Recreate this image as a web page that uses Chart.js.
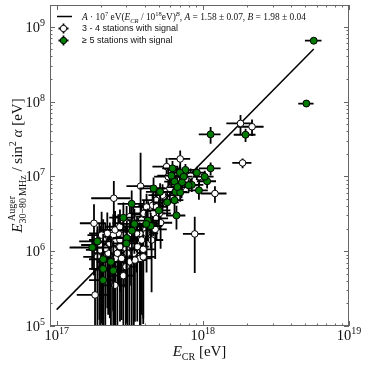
<!DOCTYPE html>
<html>
<head>
<meta charset="utf-8">
<script src="https://cdn.jsdelivr.net/npm/chart.js@4.4.0/dist/chart.umd.min.js"></script>
<style>html,body{margin:0;padding:0;background:#fff}</style>
</head>
<body>
<canvas id="radioChart" width="366" height="366"></canvas>
<script>
// >= 5 stations with signal (filled green)
var greenEnergy = [5.74e18, 5.11e18, 1.13e18, 1.96e18, 1.13e18, 9.4e17, 1.07e18, 1.03e18, 9.1e17, 7.6e17,
  8.4e17, 8.0e17, 6.96e17, 7.4e17, 6.2e17, 6.1e17, 6.4e17, 6.5e17, 6.4e17, 6.6e17,
  5.7e17, 5.1e17, 4.6e17, 5.0e17, 4.2e17, 4.4e17, 4.1e17, 3.26e17, 3.4e17, 3.27e17,
  3.02e17, 3.0e17, 2.86e17, 1.9e17, 1.75e17, 2.08e17, 2.08e17, 2.35e17, 2.44e17, 2.08e17,
  7.2e17, 7.0e17, 6.7e17];
var greenRadio = [6.5e8, 9.4e7, 3.64e7, 3.6e7, 1.28e7, 6.5e6, 8.6e6, 9.9e6, 1.12e7, 1.22e7,
  7.7e6, 7.6e6, 1.12e7, 9.9e6, 1.28e7, 1.02e7, 8.5e6, 6.2e6, 4.8e6, 3.0e6,
  4.5e6, 6.2e6, 6.9e6, 3.5e6, 2.56e6, 2.17e6, 2.31e6, 4.3e6, 2.31e6, 1.88e6,
  1.5e6, 1.27e6, 2.8e6, 1.35e6, 1.12e6, 7.8e5, 5.8e5, 7.2e5, 5.5e5, 4.1e5,
  8.3e6, 6.1e6, 7.2e6];
// relative uncertainties
var greenEnergyErr = [0.13, 0.12, 0.17, 0.17, 0.17, 0.15, 0.15, 0.15, 0.15, 0.15,
  0.2, 0.15, 0.15, 0.15, 0.15, 0.2, 0.15, 0.2, 0.15, 0.15,
  0.2, 0.2, 0.2, 0.2, 0.2, 0.2, 0.2, 0.2, 0.2, 0.2,
  0.2, 0.2, 0.2, 0.25, 0.3, 0.2, 0.2, 0.2, 0.2, 0.2,
  0.15, 0.15, 0.15];
var greenRadioErr = [0.08, 0.1, 0.25, 0.2, 0.2, 0.25, 0.2, 0.2, 0.2, 0.2,
  0.2, 0.2, 0.25, 0.2, 0.25, 0.3, 0.3, 0.3, 0.35, 0.35,
  0.35, 0.3, 0.4, 0.4, 0.45, 0.5, 0.5, 0.5, 0.6, 0.6,
  0.7, 0.8, 0.6, 0.6, 0.5, 1.2, 1.5, 1.2, 1.5, 1.5,
  0.2, 0.25, 0.25];

// 3 - 4 stations with signal (open)
var whiteEnergy = [1.81e18, 2.17e18, 1.87e18, 1.21e18, 8.8e17, 7.0e17, 5.65e17, 3.75e17, 2.46e17, 1.80e17,
  1.83e17, 2.5e17, 6.68e17, 8.24e17, 9.44e17, 5.80e17, 7.15e17, 5.95e17, 5.30e17, 4.78e17,
  4.53e17, 3.95e17, 4.23e17, 4.58e17, 4.82e17, 5.14e17, 4.72e17, 4.07e17, 3.71e17, 3.34e17,
  3.52e17, 3.81e17, 3.17e17, 2.88e17, 2.64e17, 2.44e17, 2.22e17, 2.08e17, 2.31e17, 2.51e17,
  2.71e17, 2.98e17, 3.26e17, 3.56e17, 3.91e17, 3.37e17, 3.71e17, 3.14e17, 2.78e17, 2.51e17,
  2.25e17, 1.98e17, 1.96e17, 2.15e17, 2.44e17, 2.60e17, 2.86e17, 2.98e17, 3.43e17, 3.91e17,
  3.04e17, 2.71e17, 2.51e17, 2.03e17, 1.90e17, 4.12e17, 4.46e17, 5.04e17, 4.82e17, 4.12e17,
  3.81e17, 3.17e17, 3.01e17, 2.71e17];
var whiteRadio = [5.1e7, 4.6e7, 1.51e7, 5.9e6, 1.7e6, 1.71e7, 1.35e7, 7.4e6, 5.1e6, 2.36e6,
  2.6e5, 3.5e5, 1.06e7, 1.02e7, 9.9e6, 9.9e6, 7.3e6, 6.9e6, 5.6e6, 4.8e6,
  4.1e6, 3.2e6, 3.1e6, 3.2e6, 2.75e6, 2.4e6, 1.96e6, 1.92e6, 1.73e6, 2.75e6,
  1.73e6, 1.41e6, 1.73e6, 1.64e6, 1.73e6, 1.64e6, 1.73e6, 1.41e6, 1.27e6, 1.33e6,
  1.15e6, 1.09e6, 1.21e6, 1.15e6, 1.06e6, 9.4e5, 8.0e5, 7.2e5, 8.0e5, 8.0e5,
  9.4e5, 1.04e6, 1.21e6, 1.09e6, 1.04e6, 9.4e5, 4.7e5, 6.2e5, 7.6e5, 8.4e5,
  9.4e5, 1.41e6, 1.92e6, 1.64e6, 8.4e5, 1.73e6, 1.41e6, 3.2e6, 3.9e6, 3.9e6,
  2.6e6, 2.9e6, 2.36e6, 2.12e6];
var whiteEnergyErr = [0.2, 0.2, 0.15, 0.2, 0.17, 0.17, 0.2, 0.2, 0.3, 0.2,
  0.25, 0.2, 0.15, 0.15, 0.15, 0.2, 0.15, 0.2, 0.2, 0.2,
  0.2, 0.2, 0.2, 0.2, 0.2, 0.2, 0.2, 0.2, 0.2, 0.2,
  0.2, 0.2, 0.2, 0.2, 0.25, 0.2, 0.25, 0.2, 0.2, 0.2,
  0.2, 0.2, 0.2, 0.2, 0.2, 0.2, 0.2, 0.2, 0.2, 0.2,
  0.2, 0.2, 0.25, 0.2, 0.2, 0.2, 0.2, 0.2, 0.2, 0.2,
  0.2, 0.2, 0.2, 0.2, 0.2, 0.2, 0.2, 0.2, 0.2, 0.2,
  0.2, 0.2, 0.2, 0.2];
var whiteRadioErr = [0.3, 0.25, 0.15, 0.25, 0.7, 0.3, 0.3, 1.8, 0.7, 0.8,
  1.2, 1.3, 0.25, 0.25, 0.25, 0.3, 0.3, 0.35, 0.4, 0.4,
  0.45, 0.5, 0.5, 0.5, 0.5, 0.55, 0.6, 0.6, 0.7, 0.6,
  0.7, 0.9, 0.8, 0.8, 0.8, 0.9, 0.9, 0.9, 0.9, 0.9,
  0.9, 1.2, 1.1, 0.9, 0.9, 1.3, 0.9, 0.9, 0.85, 1.3,
  0.85, 1.1, 0.9, 1.2, 0.85, 1.1, 1.5, 1.3, 0.85, 0.85,
  1.2, 0.8, 0.8, 1.05, 1.3, 0.7, 0.8, 0.4, 0.4, 0.5,
  0.6, 0.6, 0.7, 0.7];

// fit A * 1e7 eV (E/1e18 eV)^B
var fitA = 1.58, fitB = 1.98;
var fitRange = [1e17, 5.74e18];

var xDecades = [17, 18, 19];
var yDecades = [5, 6, 7, 8, 9];

function pts(xs, ys) {
  return xs.map(function (x, i) { return { x: x, y: ys[i] }; });
}
var fitLine = fitRange.map(function (e) {
  return { x: e, y: fitA * 1e7 * Math.pow(e / 1e18, fitB) };
});

var serif = '"Liberation Serif", "DejaVu Serif", serif';
var sans = '"Liberation Sans", Arial, sans-serif';

// draws a row of text pieces (sizes, italics, super/subscripts)
function richText(c, parts, x, y, draw) {
  var cx = x, lastStart = x, lastEnd = x;
  parts.forEach(function (p) {
    var size = p.size || 15;
    c.font = (p.italic ? 'italic ' : '') + size + 'px ' + (p.family || serif);
    var start = p.stack ? lastStart : cx;
    var w = c.measureText(p.t).width;
    if (draw) c.fillText(p.t, start, y - (p.rise || 0));
    if (p.stack) {
      cx = Math.max(lastEnd, start + w);
    } else {
      lastStart = start;
      cx = start + w;
    }
    lastEnd = cx;
  });
  return cx - x;
}

function powLabel(e) {
  return [{ t: '10', size: 14.5 }, { t: String(e), size: 10, rise: 6 }];
}

var errorBars = {
  id: 'errorBars',
  beforeDatasetDraw: function (chart, args) {
    var ds = chart.data.datasets[args.index];
    if (!ds.errX) return;
    var xs = chart.scales.x, ys = chart.scales.y, a = chart.chartArea, c = chart.ctx;
    c.save();
    c.beginPath();
    c.rect(a.left, a.top, a.right - a.left, a.bottom - a.top);
    c.clip();
    c.strokeStyle = '#000';
    c.lineWidth = 1.8;
    ds.data.forEach(function (p, i) {
      var fx = ds.errX[i], fy = ds.errY[i];
      var px = xs.getPixelForValue(p.x), py = ys.getPixelForValue(p.y);
      var x0 = xs.getPixelForValue(p.x * (1 - fx)), x1 = xs.getPixelForValue(p.x * (1 + fx));
      var y0 = fy < 1 ? ys.getPixelForValue(p.y * (1 - fy)) : a.bottom + 5;
      var y1 = ys.getPixelForValue(p.y * (1 + fy));
      c.beginPath();
      c.moveTo(x0, py); c.lineTo(x1, py);
      c.moveTo(px, y0); c.lineTo(px, y1);
      c.stroke();
    });
    c.restore();
  }
};

var frame = {
  id: 'frame',
  afterDraw: function (chart) {
    var c = chart.ctx, a = chart.chartArea, xs = chart.scales.x, ys = chart.scales.y;
    c.save();
    c.strokeStyle = '#666';
    c.lineWidth = 1;
    c.strokeRect(a.left + 0.5, a.top + 0.5, a.right - a.left - 1, a.bottom - a.top - 1);

    // inward ticks on all four sides
    c.beginPath();
    xDecades.forEach(function (d) {
      for (var m = 1; m <= 9; m++) {
        var v = m * Math.pow(10, d);
        if (v < xs.min || v > xs.max) continue;
        var px = Math.round(xs.getPixelForValue(v)) + 0.5, len = m === 1 ? 5 : 2.5;
        c.moveTo(px, a.bottom); c.lineTo(px, a.bottom - len);
        c.moveTo(px, a.top); c.lineTo(px, a.top + len);
      }
    });
    yDecades.forEach(function (d) {
      for (var m = 1; m <= 9; m++) {
        var v = m * Math.pow(10, d);
        if (v < ys.min || v > ys.max) continue;
        var py = Math.round(ys.getPixelForValue(v)) + 0.5, len = m === 1 ? 5 : 2.5;
        c.moveTo(a.left, py); c.lineTo(a.left + len, py);
        c.moveTo(a.right, py); c.lineTo(a.right - len, py);
      }
    });
    c.stroke();

    // tick labels
    c.fillStyle = '#111';
    c.textBaseline = 'alphabetic';
    c.textAlign = 'left';
    xDecades.forEach(function (d) {
      var px = xs.getPixelForValue(Math.pow(10, d));
      var w = richText(c, powLabel(d), 0, 0, false);
      richText(c, powLabel(d), px - w / 2, a.bottom + 14, true);
    });
    yDecades.forEach(function (d) {
      var py = ys.getPixelForValue(Math.pow(10, d));
      var w = richText(c, powLabel(d), 0, 0, false);
      richText(c, powLabel(d), a.left - 5 - w, py + 5, true);
    });

    // axis titles
    var xTitle = [{ t: 'E', italic: true }, { t: 'CR', size: 10, rise: -3.5 }, { t: ' [eV]' }];
    var wx = richText(c, xTitle, 0, 0, false);
    richText(c, xTitle, (a.left + a.right) / 2 - wx / 2, 356, true);

    var yTitle = [{ t: 'E', italic: true }, { t: ' Auger', size: 10, rise: 7 },
      { t: '30\u221280\u2009MHz', size: 10, rise: -4, stack: true },
      { t: ' / sin' }, { t: '2', size: 10, rise: 6 }, { t: ' \u03b1', italic: true }, { t: ' [eV]' }];
    var wy = richText(c, yTitle, 0, 0, false);
    c.save();
    c.translate(22, (a.top + a.bottom) / 2);
    c.rotate(-Math.PI / 2);
    richText(c, yTitle, -wy / 2, 0, true);
    c.restore();

    // legend
    var lx = 63.5;
    c.strokeStyle = '#000';
    c.lineWidth = 1.5;
    c.beginPath(); c.moveTo(57, 16.5); c.lineTo(72, 16.5); c.stroke();
    var fitText = [{ t: 'A', italic: true, size: 9.4 }, { t: ' \u00b7 10', size: 9.4 }, { t: '7', size: 6.5, rise: 4 },
      { t: ' eV(', size: 9.4 }, { t: 'E', italic: true, size: 9.4 }, { t: 'CR', italic: true, size: 6.5, rise: -2.5 },
      { t: ' / 10', size: 9.4 }, { t: '18', size: 6.5, rise: 4 }, { t: 'eV)', size: 9.4 },
      { t: 'B', italic: true, size: 6.5, rise: 4 }, { t: ', ', size: 9.4 }, { t: 'A', italic: true, size: 9.4 },
      { t: ' = 1.58 \u00b1 0.07, ', size: 9.4 }, { t: 'B', italic: true, size: 9.4 }, { t: ' = 1.98 \u00b1 0.04', size: 9.4 }];
    richText(c, fitText, 82, 20, true);

    [[28.5, '#fff', '3 - 4 stations with signal'], [40.5, '#008000', '\u2265 5 stations with signal']].forEach(function (r) {
      c.strokeStyle = '#000';
      c.lineWidth = 1.8;
      c.beginPath();
      c.moveTo(lx - 5, r[0]); c.lineTo(lx + 5, r[0]);
      c.moveTo(lx, r[0] - 5); c.lineTo(lx, r[0] + 5);
      c.stroke();
      c.beginPath();
      c.arc(lx, r[0], 3.2, 0, Math.PI * 2);
      c.fillStyle = r[1];
      c.fill();
      c.lineWidth = 1;
      c.stroke();
      c.fillStyle = '#111';
      c.font = '9px ' + sans;
      c.textBaseline = 'middle';
      c.fillText(r[2], 82, r[0]);
    });
    c.restore();
  }
};

new Chart(document.getElementById('radioChart').getContext('2d'), {
  type: 'scatter',
  data: {
    datasets: [{
      type: 'line',
      data: fitLine,
      borderColor: '#000',
      borderWidth: 1.5,
      pointRadius: 0,
      fill: false,
      order: 3
    }, {
      data: pts(whiteEnergy, whiteRadio),
      errX: whiteEnergyErr,
      errY: whiteRadioErr,
      pointRadius: 3.3,
      backgroundColor: '#fff',
      borderColor: '#000',
      borderWidth: 1,
      order: 2
    }, {
      data: pts(greenEnergy, greenRadio),
      errX: greenEnergyErr,
      errY: greenRadioErr,
      pointRadius: 3.5,
      backgroundColor: '#007a00',
      borderColor: '#000',
      borderWidth: 1,
      order: 1
    }]
  },
  options: {
    responsive: false,
    animation: false,
    devicePixelRatio: 1,
    layout: { padding: { left: 50, right: 17, top: 5, bottom: 40 } },
    plugins: { legend: { display: false }, tooltip: { enabled: false } },
    scales: {
      x: { type: 'logarithmic', min: 9.0e16, max: 1e19, display: false },
      y: { type: 'logarithmic', min: 1e5, max: 1.95e9, display: false }
    }
  },
  plugins: [errorBars, frame]
});
</script>
</body>
</html>
